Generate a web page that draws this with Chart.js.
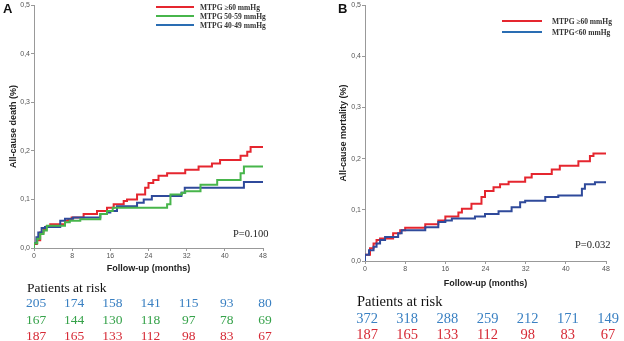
<!DOCTYPE html>
<html><head><meta charset="utf-8">
<script src="https://cdn.jsdelivr.net/npm/chart.js@4"></script>
<style>
html,body{margin:0;padding:0;background:#fff;}
#wrap{position:relative;width:624px;height:341px;overflow:hidden;background:#fff;}
canvas{position:absolute;top:0;}
.t{position:absolute;white-space:nowrap;line-height:1;}
.sw{position:absolute;height:2px;}
</style></head><body><div id="wrap">
<canvas id="ca" width="312" height="341" style="left:0;width:312px;height:341px"></canvas>
<canvas id="cb" width="312" height="341" style="left:312px;width:312px;height:341px"></canvas>
</div>
<script>
// ---- data ----
const riskMonths = [0, 8, 16, 24, 32, 40, 48];
const yTicks = [0, 0.1, 0.2, 0.3, 0.4, 0.5];

const labelsA = ["MTPG \u226560 mmHg", "MTPG 50-59 mmHg", "MTPG 40-49 mmHg"];
const labelsB = ["MTPG \u226560 mmHg", "MTPG<60 mmHg"];

const aRedT = [0, 0.6, 1.3, 2, 2.5, 3.4, 6.5, 7.2, 7.9, 10.4, 13.2, 15.3, 16.7, 18.8, 19.5, 21.6, 23.3, 24, 25, 26.1, 27.9, 31.7, 34.5, 37.3, 39, 43.3, 44.7, 45.4, 46, 48];
const aRedV = [0, 0.008, 0.016, 0.032, 0.039, 0.044, 0.049, 0.056, 0.059, 0.063, 0.07, 0.076, 0.083, 0.09, 0.097, 0.1, 0.11, 0.124, 0.134, 0.14, 0.149, 0.154, 0.161, 0.168, 0.174, 0.181, 0.19, 0.198, 0.208, 0.208];
const aGreenT = [0, 0.7, 1.3, 2, 2.7, 6.5, 7.5, 9.7, 13.9, 15.3, 16.5, 27.9, 28.6, 31, 31.7, 34.9, 38.4, 43.3, 44, 47, 48];
const aGreenV = [0, 0.01, 0.019, 0.029, 0.036, 0.046, 0.053, 0.056, 0.059, 0.07, 0.076, 0.083, 0.09, 0.11, 0.114, 0.117, 0.13, 0.14, 0.154, 0.168, 0.168];
const aBlueT = [0, 0.5, 0.9, 1.6, 2.3, 5.5, 6.5, 8.2, 13.9, 15.3, 16, 17.4, 21.6, 23, 24.7, 30.9, 31.6, 44, 44.8, 48];
const aBlueV = [0, 0.01, 0.022, 0.032, 0.041, 0.043, 0.056, 0.06, 0.063, 0.07, 0.073, 0.076, 0.086, 0.093, 0.1, 0.107, 0.114, 0.124, 0.136, 0.136];

const bRedT = [0, 1, 1.7, 2.3, 3, 5.6, 7, 8, 12, 14.6, 16, 18.6, 19.3, 21.2, 23.2, 23.9, 25.6, 26.9, 28.6, 31.9, 33.2, 37.2, 38.8, 42.5, 44.8, 45.5, 46.1, 48];
const bRedV = [0, 0.012, 0.025, 0.034, 0.041, 0.044, 0.054, 0.06, 0.065, 0.072, 0.079, 0.087, 0.095, 0.102, 0.112, 0.125, 0.137, 0.144, 0.15, 0.155, 0.163, 0.17, 0.179, 0.186, 0.195, 0.205, 0.21, 0.21];
const bBlueT = [0, 0.8, 1.7, 2.3, 3, 4, 6.6, 7.3, 12, 14.6, 16, 17.3, 21.9, 23.9, 26.6, 29.2, 30.9, 31.9, 35.9, 38.5, 43.2, 43.8, 45.8, 47.5, 48];
const bBlueV = [0, 0.012, 0.021, 0.028, 0.034, 0.041, 0.047, 0.054, 0.06, 0.066, 0.076, 0.079, 0.083, 0.087, 0.092, 0.097, 0.105, 0.115, 0.118, 0.125, 0.128, 0.141, 0.15, 0.154, 0.154];

const riskA_blue = [205, 174, 158, 141, 115, 93, 80];
const riskA_green = [167, 144, 130, 118, 97, 78, 69];
const riskA_red = [187, 165, 133, 112, 98, 83, 67];
const riskB_blue = [372, 318, 288, 259, 212, 171, 149];
const riskB_red = [187, 165, 133, 112, 98, 83, 67];

// ---- style ----
const RED = '#e5262f', GREEN = '#47b54b', BLUE = '#2f4a9b', LEGBLUE = '#2a6db3';
const TXT_BLUE = '#3a80c2', TXT_GREEN = '#36a24a', TXT_RED = '#d62a36';

function pts(t, v) { return t.map((x, i) => ({ x: x, y: v[i] })); }
function ds(t, v, c) {
  return { data: pts(t, v), borderColor: c, borderWidth: 2, stepped: 'after', pointRadius: 0, fill: false, tension: 0 };
}

function makeChart(id, datasets, o) {
  return new Chart(document.getElementById(id), {
    type: 'line',
    data: { datasets: datasets },
    options: {
      responsive: false, animation: false, devicePixelRatio: 1,
      layout: { padding: o.pad },
      plugins: { legend: { display: false }, tooltip: { enabled: false } },
      scales: {
        x: {
          type: 'linear', min: 0, max: 48, offset: false,
          afterFit: s => { s.height = o.xh; },
          ticks: { stepSize: 8, font: { size: 7, family: 'Liberation Sans' }, color: '#555', padding: 1, maxRotation: 0 },
          grid: { display: true, drawOnChartArea: false, tickLength: 3, color: '#999' },
          border: { color: '#999', width: 1 },
          title: { display: true, text: 'Follow-up (months)', font: { size: 9, weight: 'bold', family: 'Liberation Sans' }, color: '#222', padding: { top: 0, bottom: o.xtp } }
        },
        y: {
          type: 'linear', min: 0, max: 0.5,
          afterFit: s => { s.width = o.yw; },
          afterBuildTicks: s => { s.ticks = yTicks.map(v => ({ value: v })); },
          ticks: { font: { size: 7, family: 'Liberation Sans' }, color: '#555', padding: 1, callback: v => Number(v).toFixed(1).replace('.', ',') },
          grid: { display: true, drawOnChartArea: false, tickLength: 3, color: '#999' },
          border: { color: '#999', width: 1 },
          title: { display: true, text: o.ytitle, font: { size: 9, weight: 'bold', family: 'Liberation Sans' }, color: '#222', padding: { top: o.ytp, bottom: 0 } }
        }
      }
    }
  });
}

const chartA = makeChart('ca', [ds(aGreenT, aGreenV, GREEN), ds(aBlueT, aBlueV, BLUE), ds(aRedT, aRedV, RED)],
  { pad: { left: 0, top: 3, right: 49, bottom: 65 }, xh: 28, yw: 34, xtp: 2.5, ytp: 8.5, ytitle: 'All-cause death (%)' });
const chartB = makeChart('cb', [ds(bBlueT, bBlueV, BLUE), ds(bRedT, bRedV, RED)],
  { pad: { left: 20, top: 3, right: 18, bottom: 49 }, xh: 31, yw: 33, xtp: 3.5, ytp: 6.5, ytitle: 'All-cause mortality (%)' });

// ---- overlay text ----
const wrap = document.getElementById('wrap');
function addText(txt, x, y, css, center) {
  const d = document.createElement('div');
  d.className = 't';
  d.textContent = txt;
  d.style.left = x + 'px'; d.style.top = y + 'px';
  d.style.transform = center ? 'translate(-50%,-50%)' : 'translate(0,-50%)';
  Object.assign(d.style, css);
  wrap.appendChild(d);
}
function addSwatch(x, y, w, c) {
  const d = document.createElement('div');
  d.className = 'sw';
  d.style.left = x + 'px'; d.style.top = (y - 1) + 'px'; d.style.width = w + 'px'; d.style.background = c;
  wrap.appendChild(d);
}

const serif = "'Liberation Serif', 'Times New Roman', serif";
const sans = "'Liberation Sans', Arial, sans-serif";

addText('A', 3, 8, { font: 'bold 13px ' + sans, color: '#111' });
addText('B', 338, 8, { font: 'bold 13px ' + sans, color: '#111' });

// legends
const legA = [RED, GREEN, LEGBLUE], legAy = [6.5, 15.7, 25];
labelsA.forEach((l, i) => { addSwatch(156, legAy[i], 38, legA[i]); addText(l, 200, legAy[i], { font: 'bold 7.5px ' + serif, color: '#333' }); });
const legB = [RED, LEGBLUE], legBy = [20.5, 31.5];
labelsB.forEach((l, i) => { addSwatch(502, legBy[i], 40, legB[i]); addText(l, 552, legBy[i], { font: 'bold 7.5px ' + serif, color: '#333' }); });

// p values
addText('P=0.100', 233, 233, { font: '10.5px ' + serif, color: '#222' });
addText('P=0.032', 575, 244, { font: '10.5px ' + serif, color: '#222' });

// risk tables
function riskTable(chart, offX, rows, colors, ys, size, titleX, titleY) {
  addText('Patients at risk', titleX, titleY, { font: size + 'px ' + serif, color: '#111' });
  rows.forEach((r, ri) => {
    r.forEach((n, ci) => {
      const px = offX + chart.scales.x.getPixelForValue(riskMonths[ci]);
      addText(String(n), px + 2, ys[ri], { font: size + 'px ' + serif, color: colors[ri] }, true);
    });
  });
}
riskTable(chartA, 0, [riskA_blue, riskA_green, riskA_red], [TXT_BLUE, TXT_GREEN, TXT_RED], [303, 320, 336], 13.5, 27, 288);
riskTable(chartB, 312, [riskB_blue, riskB_red], [TXT_BLUE, TXT_RED], [318, 334], 14.5, 357, 301);
</script>
</body></html>
